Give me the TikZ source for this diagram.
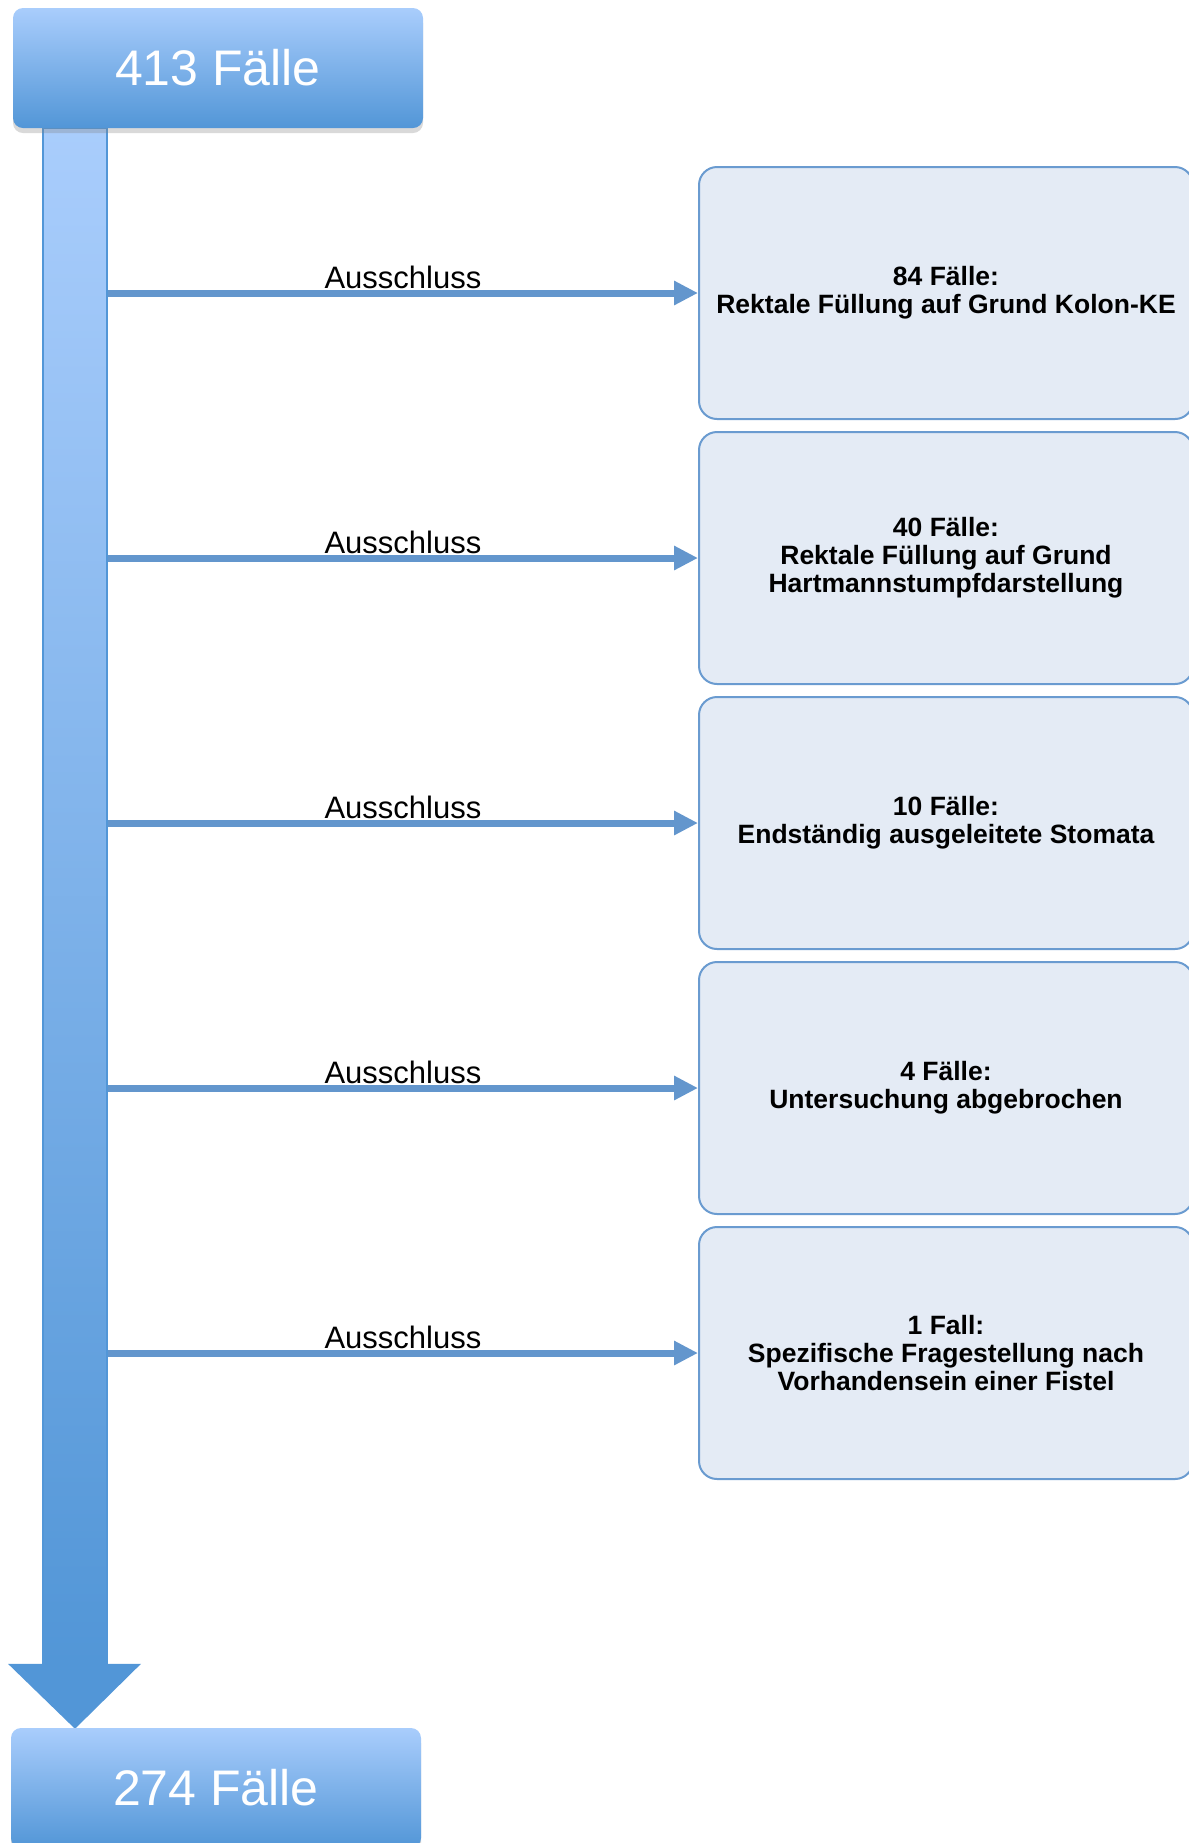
\documentclass[tikz,border=0pt]{standalone}
\usepackage{fontspec}
\setmainfont{Liberation Sans}
\usepackage{tikz}
\usetikzlibrary{arrows.meta,positioning,shadows}

\definecolor{flowlight}{RGB}{169,205,252}
\definecolor{flowdark}{RGB}{82,150,215}
\definecolor{exclline}{RGB}{99,150,205}
\definecolor{exclfill}{RGB}{228,235,245}
\definecolor{exclborder}{RGB}{106,155,208}

\begin{document}
\begin{tikzpicture}[
    x=0.5pt, y=-0.5pt,
    node distance=5.5pt,
    count/.style={rounded corners=5pt, top color=flowlight, bottom color=flowdark, minimum width=205pt, minimum height=60pt, text=white, font=\fontsize{25}{30}\selectfont, drop shadow={shadow xshift=0pt, shadow yshift=-2.5pt, opacity=0.3}},
    shaft/.style={top color=flowlight, bottom color=flowdark, draw=flowdark, line width=0.8pt, minimum width=32pt, minimum height=767.5pt, inner sep=0pt},
    excl/.style={draw=exclborder, line width=1pt, fill=exclfill, rounded corners=9pt, minimum width=247pt, minimum height=126pt, align=center, font=\bfseries\fontsize{13.25}{14}\selectfont},
    arr/.style={-{Triangle[length=12pt, width=11.5pt]}, line width=3.5pt, exclline},
    lbl/.style={anchor=base, inner sep=0pt, yshift=2.2pt, font=\fontsize{15.5}{18}\selectfont, text=black},
]
\useasboundingbox (0,0) rectangle (1189,1843);
% Main flow
\node[shaft] (shaft) at (75,895.5) {};
\fill[flowdark] ([xshift=-33.5pt]shaft.south) -- ([xshift=33pt]shaft.south) -- ([yshift=-32.5pt]shaft.south) -- cycle;
\node[count] (start) at (218,68) {413 Fälle};
\node[count] (finish) at (216,1788) {274 Fälle};
% Exclusions
\node[excl] (e1) at (946,293) {84 Fälle:\\Rektale Füllung auf Grund Kolon-KE};
\node[excl, below=of e1] (e2) {40 Fälle:\\Rektale Füllung auf Grund\\Hartmannstumpfdarstellung};
\node[excl, below=of e2] (e3) {10 Fälle:\\Endständig ausgeleitete Stomata};
\node[excl, below=of e3] (e4) {4 Fälle:\\Untersuchung abgebrochen};
\node[excl, below=of e4] (e5) {1 Fall:\\Spezifische Fragestellung nach\\Vorhandensein einer Fistel};
% Arrows
\foreach \i in {1,...,5}
  \draw[arr] (shaft.east |- e\i.west) -- node[lbl] {Ausschluss} (e\i.west);
\end{tikzpicture}
\end{document}
